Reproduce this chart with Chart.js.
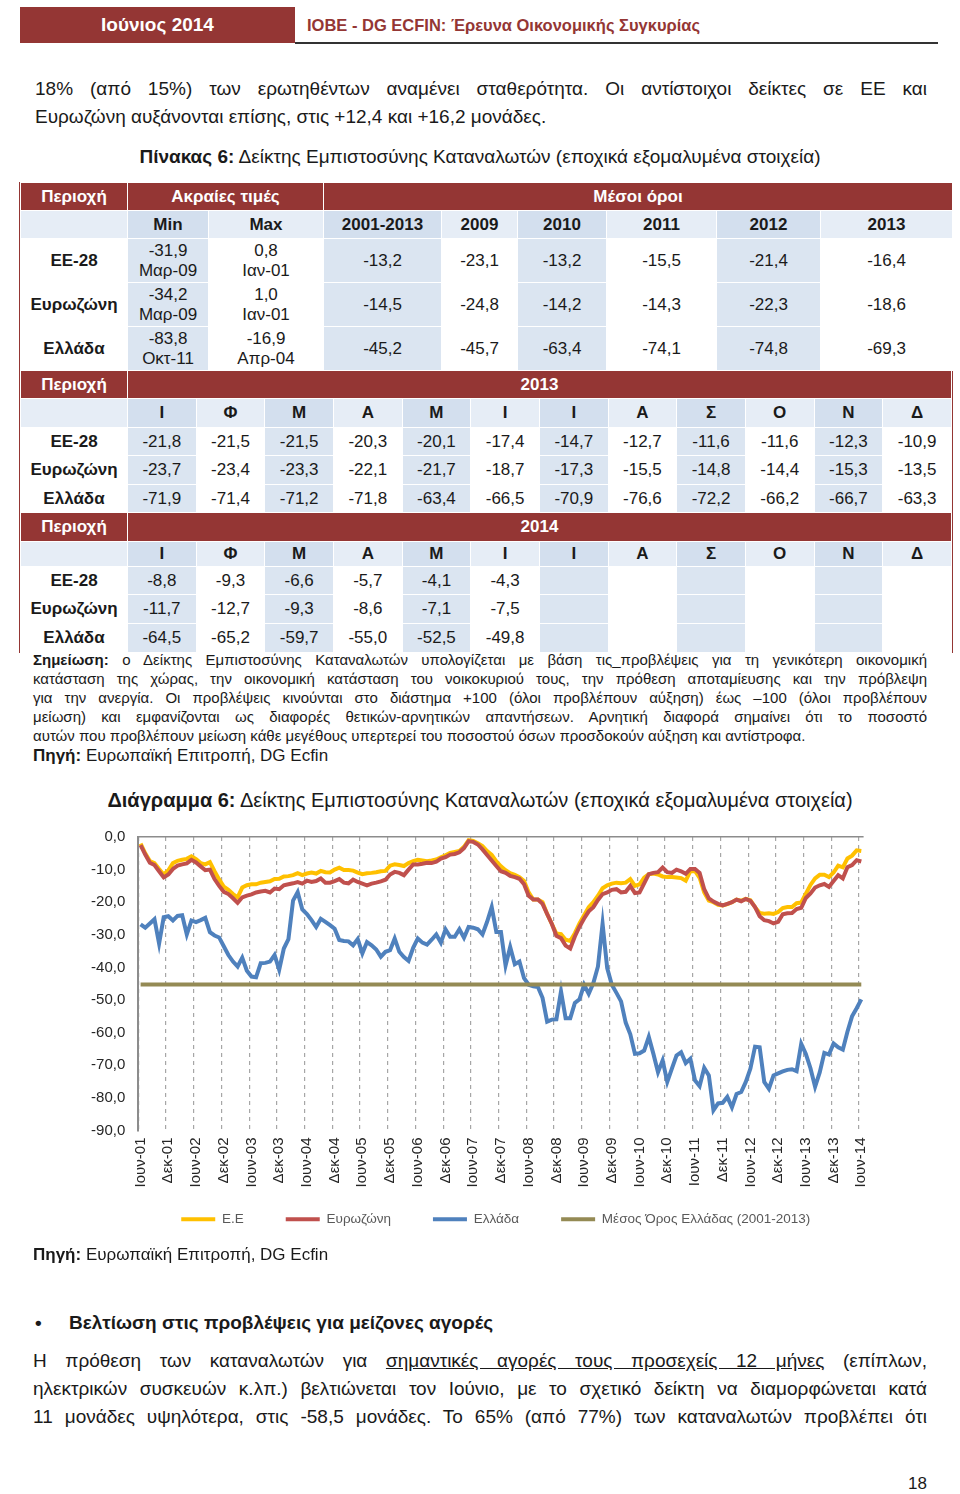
<!DOCTYPE html>
<html lang="el">
<head>
<meta charset="utf-8">
<title>Δείκτης Εμπιστοσύνης Καταναλωτών</title>
<script src="https://cdn.jsdelivr.net/npm/chart.js@4.4.1/dist/chart.umd.min.js"></script>
<style>
  html, body { margin: 0; padding: 0; background: #fff; }
  body { width: 960px; height: 1494px; position: relative; overflow: hidden;
         font-family: "Liberation Sans", Arial, sans-serif; color: #1a1a1a; }
  .abs { position: absolute; }
  .hbox { left: 20px; top: 7px; width: 275px; height: 36px; line-height: 36px; background: #943634;
          color: #fff; font-weight: bold; font-size: 19px; text-align: center; }
  .htitle { left: 307px; top: 14px; line-height: 22px; font-size: 16.5px; font-weight: bold; color: #943634; }
  .hrule { left: 295px; top: 42px; width: 643px; height: 2px; background: #333; }
  .line { left: 35px; width: 892px; font-size: 19px; line-height: 28px; }
  .just { text-align: justify; text-align-last: justify; }
  .note { left: 33px; width: 894px; font-size: 15px; line-height: 19px; }
  .tbl { position: absolute; left: 20px; width: 932px; border-collapse: collapse; table-layout: fixed; font-size: 17px; }
  .tbl td { border: 1px solid #fff; text-align: center; vertical-align: middle; padding: 0; line-height: 20px;
            white-space: nowrap; overflow: hidden; }
  .tbl tr.hd td { background: #943634; color: #fff; font-weight: bold; }
  .tbl tr.sub td { background: #e6edf6; font-weight: bold; }
  .tbl tr.sub td.s { background: #d3dfee; }
  .tbl td.s { background: #dbe5f1; }
  .tbl td.lbl { font-weight: bold; }
  .frame { left: 19px; top: 182px; width: 932px; height: 470px; border: 1px solid #943634; border-top: none; }
  #chartBox { left: 80px; top: 815px; width: 810px; height: 451px; }
</style>
</head>
<body>
<div class="abs hbox">Ιούνιος 2014</div>
<div class="abs htitle">ΙΟΒΕ - DG ECFIN: Έρευνα Οικονομικής Συγκυρίας</div>
<div class="abs hrule"></div>

<div class="abs line just" style="top:75px">18% (από 15%) των ερωτηθέντων αναμένει σταθερότητα. Οι αντίστοιχοι δείκτες σε ΕΕ και</div>
<div class="abs line" style="top:103px">Ευρωζώνη αυξάνονται επίσης, στις +12,4 και +16,2 μονάδες.</div>

<div class="abs" style="left:0;top:146px;width:960px;text-align:center;font-size:19px;line-height:22px"><b>Πίνακας 6:</b> Δείκτης Εμπιστοσύνης Καταναλωτών (εποχικά εξομαλυμένα στοιχεία)</div>

<div class="abs frame"></div>
<div id="tables"></div>

<div class="abs note just" style="top:650px"><b>Σημείωση:</b> ο Δείκτης Εμπιστοσύνης Καταναλωτών υπολογίζεται με βάση τις_προβλέψεις για τη γενικότερη οικονομική</div>
<div class="abs note just" style="top:669px">κατάσταση της χώρας, την οικονομική κατάσταση του νοικοκυριού τους, την πρόθεση αποταμίευσης και την πρόβλεψη</div>
<div class="abs note just" style="top:688px">για την ανεργία. Οι προβλέψεις κινούνται στο διάστημα +100 (όλοι προβλέπουν αύξηση) έως –100 (όλοι προβλέπουν</div>
<div class="abs note just" style="top:707px">μείωση) και εμφανίζονται ως διαφορές θετικών-αρνητικών απαντήσεων. Αρνητική διαφορά σημαίνει ότι το ποσοστό</div>
<div class="abs note" style="top:726px">αυτών που προβλέπουν μείωση κάθε μεγέθους υπερτερεί του ποσοστού όσων προσδοκούν αύξηση και αντίστροφα.</div>
<div class="abs" style="left:33px;top:745px;font-size:17px;line-height:22px"><b>Πηγή:</b> Ευρωπαϊκή Επιτροπή, DG Ecfin</div>

<div class="abs" style="left:0;top:788px;width:960px;text-align:center;font-size:20px;line-height:24px"><b>Διάγραμμα 6:</b> Δείκτης Εμπιστοσύνης Καταναλωτών (εποχικά εξομαλυμένα στοιχεία)</div>

<div class="abs" id="chartBox"><canvas id="chart" width="810" height="451"></canvas></div>

<div class="abs" style="left:33px;top:1244px;font-size:17px;line-height:22px"><b>Πηγή:</b> Ευρωπαϊκή Επιτροπή, DG Ecfin</div>

<div class="abs" style="left:35px;top:1311px;font-size:19px;line-height:24px;font-weight:bold">•</div>
<div class="abs" style="left:69px;top:1311px;font-size:19px;line-height:24px;font-weight:bold">Βελτίωση στις προβλέψεις για μείζονες αγορές</div>

<div class="abs line just" style="left:33px;width:894px;top:1347px">Η πρόθεση των καταναλωτών για <u>σημαντικές αγορές τους προσεχείς 12 μήνες</u> (επίπλων,</div>
<div class="abs line just" style="left:33px;width:894px;top:1375px">ηλεκτρικών συσκευών κ.λπ.) βελτιώνεται τον Ιούνιο, με το σχετικό δείκτη να διαμορφώνεται κατά</div>
<div class="abs line just" style="left:33px;width:894px;top:1403px">11 μονάδες υψηλότερα, στις -58,5 μονάδες. Το 65% (από 77%) των καταναλωτών προβλέπει ότι</div>

<div class="abs" style="right:33px;top:1473px;font-size:17px;line-height:22px">18</div>

<script>
// ---- data ----
const regions = ['ΕΕ-28', 'Ευρωζώνη', 'Ελλάδα'];
const extremeMin = [-31.9, -34.2, -83.8];
const extremeMinDate = ['Μαρ-09', 'Μαρ-09', 'Οκτ-11'];
const extremeMax = [0.8, 1.0, -16.9];
const extremeMaxDate = ['Ιαν-01', 'Ιαν-01', 'Απρ-04'];
const avgPeriods = ['2001-2013', '2009', '2010', '2011', '2012', '2013'];
const avgEU = [-13.2, -23.1, -13.2, -15.5, -21.4, -16.4];
const avgEZ = [-14.5, -24.8, -14.2, -14.3, -22.3, -18.6];
const avgGR = [-45.2, -45.7, -63.4, -74.1, -74.8, -69.3];
const monthLetters = ['Ι', 'Φ', 'Μ', 'Α', 'Μ', 'Ι', 'Ι', 'Α', 'Σ', 'Ο', 'Ν', 'Δ'];
const monthNames = ['Ιαν', 'Φεβ', 'Μαρ', 'Απρ', 'Μαϊ', 'Ιουν', 'Ιουλ', 'Αυγ', 'Σεπ', 'Οκτ', 'Νοε', 'Δεκ'];

// monthly, Jun 2001 - Jun 2014
const euIndex = [
  -2.0, -5.0, -7.4, -8.0, -9.8, -11.5, -10.2,
  -8.0, -7.3, -7.0, -6.7, -5.9, -6.8, -8.0, -8.4, -7.7, -10.5, -13.0, -15.2,
  -16.2, -17.5, -18.5, -15.5, -14.8, -14.5, -14.5, -14.0, -13.8, -13.6, -12.9, -12.8,
  -12.1, -12.0, -11.7, -11.1, -11.7, -11.2, -10.9, -11.2, -10.4, -10.8, -10.9, -10.0,
  -9.4, -10.1, -10.1, -10.3, -10.9, -11.4, -11.1, -11.0, -10.8, -10.5, -10.4, -8.8,
  -8.4, -8.6, -8.9, -8.0, -7.4, -7.0, -7.2, -7.4, -7.2, -6.9, -6.2, -5.6,
  -4.9, -4.6, -4.3, -3.0, -1.0, -1.2, -1.9, -2.8, -4.3, -5.5, -7.5, -9.0,
  -10.2, -11.1, -11.6, -12.3, -13.5, -17.0, -19.2, -19.2, -20.0, -23.6, -26.6, -29.6,
  -29.8, -31.5, -31.9, -29.5, -26.5, -24.0, -21.5, -20.0, -18.0, -15.7, -14.8, -14.3,
  -14.0, -14.2, -14.0, -12.9, -15.0, -14.5, -12.5, -11.4, -11.2, -11.5, -12.1, -12.3,
  -12.3, -12.4, -12.6, -13.4, -10.5, -10.4, -12.5, -17.0, -19.5, -20.0, -20.8, -21.0,
  -20.6, -20.0, -19.2, -19.5, -19.0, -19.4, -21.5, -23.3, -23.5, -23.4, -23.6, -23.0,
  -21.8, -21.5, -21.5, -20.3, -20.1, -17.4, -14.7, -12.7, -11.6, -11.6, -12.3, -10.9,
  -8.8, -9.3, -6.6, -5.7, -4.1, -4.3
];
const ezIndex = [
  -2.5, -5.4, -7.9, -8.6, -10.5, -12.4, -11.5,
  -9.8, -8.8, -8.4, -8.1, -7.0, -7.8, -9.0, -10.2, -10.0, -12.9, -15.0, -16.8,
  -17.5, -18.8, -20.2, -18.5, -18.0, -17.6, -17.0, -16.7, -16.5, -17.0, -15.8, -16.0,
  -14.8, -14.5, -14.2, -13.8, -14.3, -13.4, -13.8, -13.5, -12.7, -14.0, -14.0, -13.5,
  -12.9, -14.0, -14.2, -13.1, -13.8, -14.3, -14.8, -14.3, -14.0, -13.6, -13.1, -11.5,
  -10.7, -11.0, -11.7, -10.0, -8.4, -8.4, -8.2, -7.9, -8.0, -7.6, -6.6, -6.2,
  -5.4, -5.2, -4.7, -3.4, -1.3, -1.5, -2.3, -3.8, -5.5, -7.2, -8.9, -10.5,
  -11.0, -11.9, -12.3, -12.8, -14.5, -18.0, -19.2, -19.2, -20.5, -23.6, -26.6, -30.3,
  -31.0, -33.3, -34.2, -30.5, -27.5, -25.0, -22.8, -21.5, -19.3, -17.5, -17.0, -16.2,
  -16.0, -17.0, -16.8, -15.0, -17.2, -17.0, -14.2, -11.4, -11.0, -10.8, -9.4, -10.8,
  -11.0, -10.0, -10.5, -11.3, -9.8, -9.8, -11.0, -16.0, -18.8, -19.8, -20.5, -21.0,
  -20.5, -20.0, -19.2, -19.7, -19.0, -19.6, -21.5, -24.3, -25.5, -25.8, -26.5, -26.0,
  -23.7, -23.4, -23.3, -22.1, -21.7, -18.7, -17.3, -15.5, -14.8, -14.4, -15.3, -13.5,
  -11.7, -12.7, -9.3, -8.6, -7.1, -7.5
];
const grIndex = [
  -26.8, -27.8, -26.5, -25.2, -32.7, -24.6, -24.3,
  -25.6, -24.2, -24.0, -29.9, -25.6, -26.1, -25.5, -24.8, -29.2, -30.2, -30.8, -33.5,
  -36.2, -38.2, -39.7, -37.0, -41.0, -42.8, -43.0, -38.7, -38.6, -38.2, -36.2, -40.7,
  -34.2, -31.3, -19.5, -16.9, -22.2, -23.6, -25.5, -27.6, -25.1, -26.0, -27.0, -28.1,
  -31.6, -31.9, -32.0, -33.2, -31.3, -35.7, -32.2, -33.2, -34.5, -36.7, -35.2, -34.7,
  -31.1, -35.2, -36.8, -38.0, -34.0, -31.1, -32.4, -33.0, -31.5, -29.9, -32.4, -28.3,
  -30.6, -30.6, -28.3, -30.9, -27.6, -27.8, -28.3, -29.9, -26.0, -21.5, -29.1, -29.1,
  -39.4, -33.7, -39.0, -38.2, -43.3, -45.3, -45.8, -46.0, -49.3, -56.6, -56.0, -55.9,
  -47.3, -55.6, -55.6, -50.9, -49.8, -45.3, -48.1, -44.8, -39.7, -26.6, -40.2, -45.3,
  -47.8, -50.4, -56.9, -60.5, -66.5, -66.3, -65.5, -61.3, -66.5, -72.1, -68.5, -75.1,
  -71.0, -67.0, -66.0, -69.3, -68.0, -74.6, -76.4, -70.8, -73.1, -83.8, -81.7, -81.5,
  -79.7, -82.9, -78.8, -78.2, -75.1, -71.0, -64.3, -64.5, -75.1, -77.2, -73.1, -72.5,
  -71.9, -71.4, -71.2, -71.8, -63.4, -66.5, -70.9, -76.6, -72.2, -66.2, -66.7, -63.3,
  -64.5, -65.2, -59.7, -55.0, -52.5, -49.8
];
const grAverage = avgGR[0];

// month labels "Ιουν-01" ... "Ιουν-14"
const months = [];
for (let y = 2001; y <= 2014; y++) {
  for (let m = 0; m < 12; m++) {
    if (y === 2001 && m < 5) continue;
    if (y === 2014 && m > 5) break;
    months.push(monthNames[m] + '-' + String(y).slice(2));
  }
}

// ---- table ----
const fmt = v => v.toFixed(1).replace('.', ',');
const seriesByRegion = [euIndex, ezIndex, grIndex];
const avgByRegion = [avgEU, avgEZ, avgGR];
const i2013 = months.indexOf('Ιαν-13');
const i2014 = months.indexOf('Ιαν-14');

function monthTable(top, year, startIdx, rowH) {
  let h = '<table class="tbl" style="top:' + top + 'px"><colgroup><col style="width:107px">';
  for (let i = 0; i < 12; i++) h += '<col>';
  h += '</colgroup>';
  h += '<tr class="hd" style="height:' + rowH[0] + 'px"><td>Περιοχή</td><td colspan="12">' + year + '</td></tr>';
  h += '<tr class="sub" style="height:' + rowH[1] + 'px"><td></td>';
  monthLetters.forEach((l, i) => { h += '<td' + (i % 2 === 0 ? ' class="s"' : '') + '>' + l + '</td>'; });
  h += '</tr>';
  regions.forEach((r, k) => {
    h += '<tr style="height:' + rowH[2 + k] + 'px"><td class="lbl">' + r + '</td>';
    for (let i = 0; i < 12; i++) {
      const v = seriesByRegion[k][startIdx + i];
      h += '<td' + (i % 2 === 0 ? ' class="s"' : '') + '>' + (v === undefined ? '' : fmt(v)) + '</td>';
    }
    h += '</tr>';
  });
  return h + '</table>';
}

let t1 = '<table class="tbl" style="top:182px"><colgroup>';
[107, 81, 115, 118, 76, 89, 110, 104, 132].forEach(w => { t1 += '<col style="width:' + w + 'px">'; });
t1 += '</colgroup>';
t1 += '<tr class="hd" style="height:28px"><td>Περιοχή</td><td colspan="2">Ακραίες τιμές</td><td colspan="6">Μέσοι όροι</td></tr>';
t1 += '<tr class="sub" style="height:28px"><td></td><td class="s">Min</td><td>Max</td>';
avgPeriods.forEach((p, i) => { t1 += '<td' + (i % 2 === 0 ? ' class="s"' : '') + '>' + p + '</td>'; });
t1 += '</tr>';
regions.forEach((r, k) => {
  t1 += '<tr style="height:44px"><td class="lbl">' + r + '</td>';
  t1 += '<td class="s">' + fmt(extremeMin[k]) + '<br>' + extremeMinDate[k] + '</td>';
  t1 += '<td>' + fmt(extremeMax[k]) + '<br>' + extremeMaxDate[k] + '</td>';
  avgByRegion[k].forEach((v, i) => { t1 += '<td' + (i % 2 === 0 ? ' class="s"' : '') + '>' + fmt(v) + '</td>'; });
  t1 += '</tr>';
});
t1 += '</table>';

document.getElementById('tables').innerHTML = t1 +
  monthTable(370, '2013', i2013, [28, 29, 28, 29, 28]) +
  monthTable(512, '2014', i2014, [29, 25, 28, 29, 29]);

// ---- chart ----
Chart.defaults.font.family = '"Liberation Sans", Arial, sans-serif';
Chart.defaults.color = '#262626';

// move the legend under the plot centre, just below the month labels
const legendShift = {
  id: 'legendShift',
  afterLayout(chart) {
    const lg = chart.legend;
    lg.left += 24; lg.right += 24;
    lg.top -= 30; lg.bottom -= 30;
  }
};

new Chart(document.getElementById('chart'), {
  type: 'line',
  data: {
    labels: months,
    datasets: [
      { label: 'Ε.Ε', data: euIndex, borderColor: '#FFC000', backgroundColor: '#FFC000', order: 4 },
      { label: 'Ευρωζώνη', data: ezIndex, borderColor: '#C0504D', backgroundColor: '#C0504D', order: 3 },
      { label: 'Ελλάδα', data: grIndex, borderColor: '#4F81BD', backgroundColor: '#4F81BD', order: 2 },
      { label: 'Μέσος Όρος Ελλάδας (2001-2013)',
        data: [{ x: months[0], y: grAverage }, { x: months[months.length - 1], y: grAverage }],
        borderColor: '#948A54', backgroundColor: '#948A54', order: 1 }
    ]
  },
  plugins: [legendShift],
  options: {
    responsive: false,
    animation: false,
    layout: { padding: { top: 19, right: 26.4, bottom: 0, left: 0 } },
    elements: { point: { radius: 0 }, line: { borderWidth: 4, tension: 0 } },
    scales: {
      x: {
        offset: true,
        grid: {
          offset: true,
          drawTicks: false,
          lineWidth: 1.2,
          color: ctx => (ctx.index % 6 === 0 ? '#a6a6a6' : 'rgba(0,0,0,0)')
        },
        border: { display: false, dash: [4, 4] },
        ticks: {
          autoSkip: false,
          maxRotation: 90,
          minRotation: 90,
          padding: 7,
          font: { size: 15 },
          callback: function (v, i) { return i % 6 === 0 ? this.getLabelForValue(v) : ''; }
        },
        afterFit: s => { s.height = 70; }
      },
      y: {
        min: -90,
        max: 0,
        grid: {
          drawTicks: false,
          lineWidth: 1.5,
          color: ctx => (ctx.tick && ctx.tick.value === 0 ? '#8c8c8c' : 'rgba(0,0,0,0)')
        },
        border: { display: true, color: '#8c8c8c', width: 2 },
        ticks: { stepSize: 10, padding: 13, font: { size: 15 }, callback: v => fmt(v) },
        afterFit: s => { s.width = 58.3; }
      }
    },
    plugins: {
      tooltip: { enabled: false },
      legend: {
        position: 'bottom',
        labels: {
          boxWidth: 34,
          boxHeight: 4,
          padding: 42,
          color: '#595959',
          font: { size: 13.5 },
          sort: (a, b) => a.datasetIndex - b.datasetIndex,
          generateLabels: chart => {
            const items = Chart.defaults.plugins.legend.labels.generateLabels(chart);
            items.forEach(it => { it.lineWidth = 0; it.fillStyle = it.strokeStyle; });
            return items;
          }
        }
      }
    }
  }
});
</script>
</body>
</html>
